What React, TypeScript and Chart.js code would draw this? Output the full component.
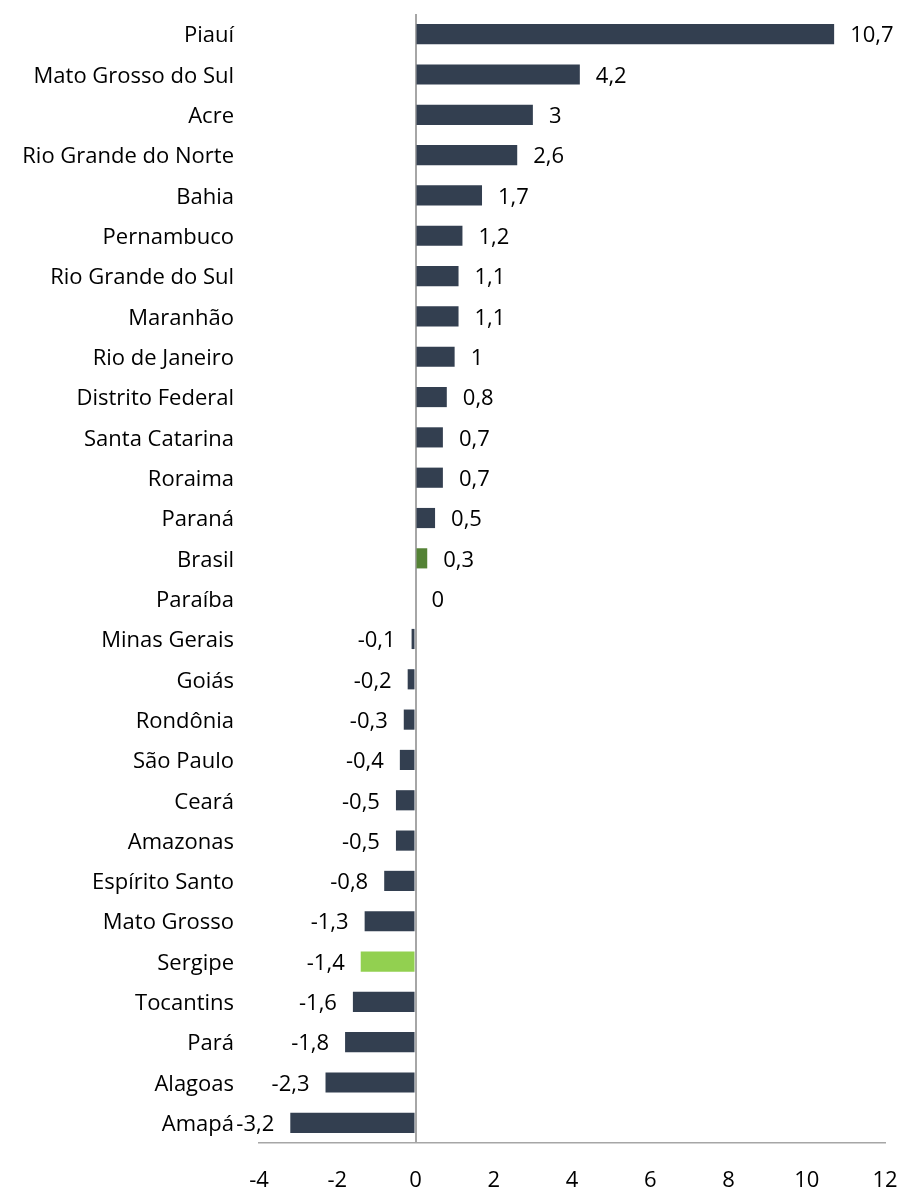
import React, { useEffect, useRef } from "react";
import { Chart, registerables } from "chart.js";

Chart.register(...registerables);

const categories = [
  "Piauí", "Mato Grosso do Sul", "Acre", "Rio Grande do Norte", "Bahia", "Pernambuco",
  "Rio Grande do Sul", "Maranhão", "Rio de Janeiro", "Distrito Federal", "Santa Catarina",
  "Roraima", "Paraná", "Brasil", "Paraíba", "Minas Gerais", "Goiás", "Rondônia", "São Paulo",
  "Ceará", "Amazonas", "Espírito Santo", "Mato Grosso", "Sergipe", "Tocantins", "Pará",
  "Alagoas", "Amapá",
];

const values = [
  10.7, 4.2, 3, 2.6, 1.7, 1.2, 1.1, 1.1, 1, 0.8, 0.7, 0.7, 0.5, 0.3, 0, -0.1, -0.2, -0.3, -0.4,
  -0.5, -0.5, -0.8, -1.3, -1.4, -1.6, -1.8, -2.3, -3.2,
];

const xTicks = [-4, -2, 0, 2, 4, 6, 8, 10, 12];

const DARK = "#333F50";
const BRASIL = "#548235";
const SERGIPE = "#92D050";
const FONT = "'Open Sans', sans-serif";
const SIZE = 22;

const colors = categories.map((c) => (c === "Brasil" ? BRASIL : c === "Sergipe" ? SERGIPE : DARK));

const valueLabels = {
  id: "valueLabels",
  afterDatasetsDraw(chart: any) {
    const ctx = chart.ctx;
    const meta = chart.getDatasetMeta(0);
    const zero = chart.scales.x.getPixelForValue(0);
    ctx.save();
    ctx.font = `${SIZE}px ${FONT}`;
    ctx.fillStyle = "#000";
    ctx.textBaseline = "middle";
    meta.data.forEach((bar: any, i: number) => {
      const v = values[i];
      const txt = String(v).replace(".", ",");
      if (v >= 0) {
        ctx.textAlign = "left";
        ctx.fillText(txt, Math.max(bar.x, zero) + 16, bar.y + 2);
      } else {
        ctx.textAlign = "right";
        ctx.fillText(txt, bar.x - 16, bar.y + 2);
      }
    });
    ctx.restore();
  },
};

export default function App() {
  const ref = useRef<HTMLCanvasElement>(null);
  useEffect(() => {
    if (!ref.current) return;
    const chart = new Chart(ref.current, {
      type: "bar",
      data: {
        labels: categories,
        datasets: [
          {
            data: values,
            backgroundColor: colors,
            borderWidth: 0,
            categoryPercentage: 0.5,
            barPercentage: 1,
          },
        ],
      },
      options: {
        indexAxis: "y",
        animation: false,
        responsive: false,
        maintainAspectRatio: false,
        layout: { padding: { left: 0, right: 16, top: 14, bottom: 0 } },
        plugins: { legend: { display: false }, tooltip: { enabled: false } },
        scales: {
          x: {
            type: "linear",
            min: -4,
            max: 12,
            afterBuildTicks: (axis: any) => {
              axis.ticks = xTicks.map((v) => ({ value: v }));
            },
            ticks: {
              font: { family: FONT, size: SIZE },
              color: "#000",
              padding: 25,
              callback: (v: any) => String(v),
            },
            grid: {
              drawTicks: false,
              color: (c: any) => (c.tick && c.tick.value === 0 ? "#A6A6A6" : "rgba(0,0,0,0)"),
              lineWidth: 2,
            },
            border: { display: true, color: "#A6A6A6", width: 1.5 },
            afterFit: (axis: any) => {
              axis.height = 46;
              axis.paddingLeft = 0;
              axis.paddingRight = 0;
            },
          },
          y: {
            ticks: {
              font: { family: FONT, size: SIZE },
              color: "#000",
              padding: 25,
              labelOffset: 2,
              autoSkip: false,
            },
            grid: { display: false, drawTicks: false },
            border: { display: false },
            afterFit: (axis: any) => {
              axis.width = 259;
              axis.paddingTop = 0;
              axis.paddingBottom = 0;
            },
          },
        },
      },
      plugins: [valueLabels],
    });
    return () => chart.destroy();
  }, []);
  return (
    <div style={{ position: "absolute", left: 0, top: 0, width: 901, height: 1189 }}>
      <canvas ref={ref} width={901} height={1189} style={{ width: 901, height: 1189 }} />
    </div>
  );
}
